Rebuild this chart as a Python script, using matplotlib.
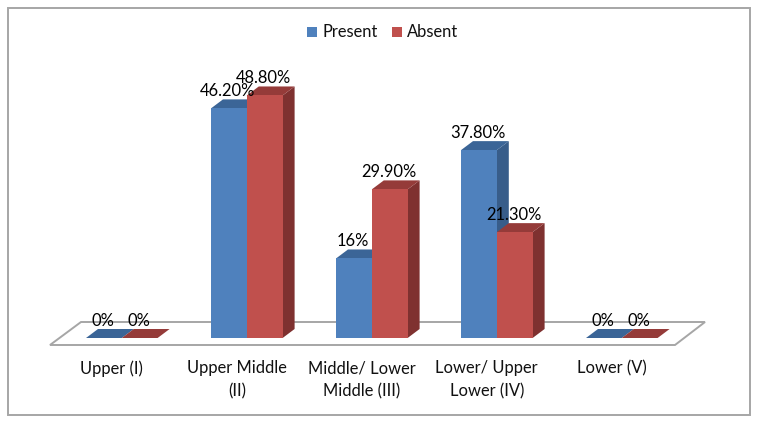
import matplotlib
matplotlib.use("Agg")
import matplotlib.pyplot as plt
from matplotlib.patches import Polygon, Rectangle

categories = ["Upper (I)", "Upper Middle\n(II)", "Middle/ Lower\nMiddle (III)", "Lower/ Upper\nLower (IV)", "Lower (V)"]
present = [0, 46.2, 16, 37.8, 0]
absent = [0, 48.8, 29.9, 21.3, 0]
present_labels = ["0%", "46.20%", "16%", "37.80%", "0%"]
absent_labels = ["0%", "48.80%", "29.90%", "21.30%", "0%"]
series_names = ["Present", "Absent"]

W, H = 761, 425
plt.rcParams['font.family'] = ['Lato', 'DejaVu Sans']
fig = plt.figure(figsize=(W/100, H/100), dpi=100)
ax = fig.add_axes([0, 0, 1, 1])
# x: one category = 125 px; y: one percent = 4.97 px, baseline at pixel y = 338
PXX, PXY = 125.0, 4.97
X0, Y0 = 121.8, 338.0
ax.set_xlim(-X0/PXX, (W-X0)/PXX)
ax.set_ylim(-(H-Y0)/PXY, Y0/PXY)
ax.axis("off")
dx, dy = 12/PXX, 9/PXY
bw = 35.8/PXX
FS = 11.9

def px(x, y):
    return ((x-X0)/PXX, (Y0-y)/PXY)

ax.add_patch(Rectangle(px(8, 415), 742/PXX, 407/PXY, fc="white", ec="#a6a6a6", lw=1.4, zorder=0))
ax.add_patch(Polygon([px(50, 345), px(81, 322), px(705, 322), px(675, 345)], fc="white", ec="#a6a6a6", lw=1.4, zorder=1))

colors = [("#4f81bd", "#3b6597", "#385d8a"), ("#c0504d", "#953b39", "#7f3130")]

def bar3d(x, v, cols, z):
    front, top, side = cols
    ax.add_patch(Polygon([(x+bw, 0), (x+bw+dx, dy), (x+bw+dx, v+dy), (x+bw, v)], fc=side, ec="none", zorder=z))
    ax.add_patch(Polygon([(x, v), (x+dx, v+dy), (x+bw+dx, v+dy), (x+bw, v)], fc=top, ec="none", zorder=z))
    ax.bar(x, v, width=bw, align="edge", color=front, zorder=z+0.1)

for i in range(len(categories)):
    bar3d(i-bw, present[i], colors[0], 2)
    bar3d(i, absent[i], colors[1], 3)
for i, c in enumerate(categories):
    ax.text(i-10/PXX, -22/PXY, c, ha="center", va="top", fontsize=FS, color="#111111", linespacing=1.55, zorder=6)
    ax.text(i-19/PXX, present[i]+17/PXY, present_labels[i], ha="center", va="center", fontsize=FS, color="black", zorder=6)
    ax.text(i+17/PXX, absent[i]+17/PXY, absent_labels[i], ha="center", va="center", fontsize=FS, color="black", zorder=6)

for (lx, name, cols) in [(307, series_names[0], colors[0]), (392, series_names[1], colors[1])]:
    ax.add_patch(Rectangle(px(lx, 37), 10/PXX, 10/PXY, fc=cols[0], ec="none", zorder=6))
    xx, yy = px(lx+15, 32)
    ax.text(xx, yy, name, ha="left", va="center", fontsize=FS, color="#111111", zorder=6)

fig.savefig("out.png", dpi=100)
